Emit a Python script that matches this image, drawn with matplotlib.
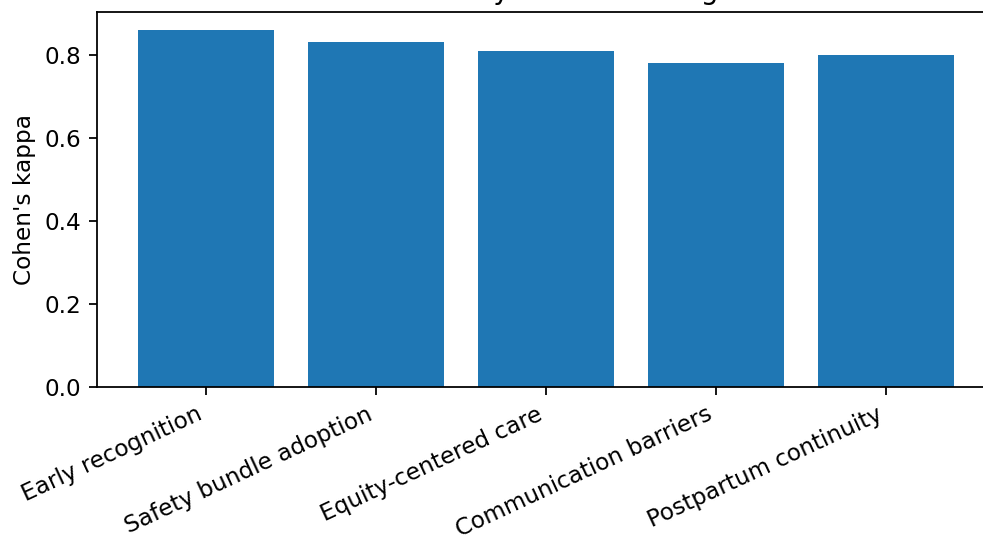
import matplotlib
matplotlib.use("Agg")
import matplotlib.pyplot as plt

themes = ['Early recognition', 'Safety bundle adoption', 'Equity-centered care',
          'Communication barriers', 'Postpartum continuity']
kappa = [0.86, 0.83, 0.81, 0.78, 0.80]

plt.rcParams['font.size'] = 10.4

fig = plt.figure(figsize=(983 / 160, 537 / 160), dpi=160)
ax = fig.add_axes([97 / 983, 150 / 537, 897.6 / 983, 375 / 537])

ax.bar(themes, kappa, color='#1f77b4')
ax.set_ylabel("Cohen's kappa")
ax.set_title('Reliability of item coding')
plt.setp(ax.get_xticklabels(), rotation=25, ha='right')

fig.savefig('out.png', dpi=160)
